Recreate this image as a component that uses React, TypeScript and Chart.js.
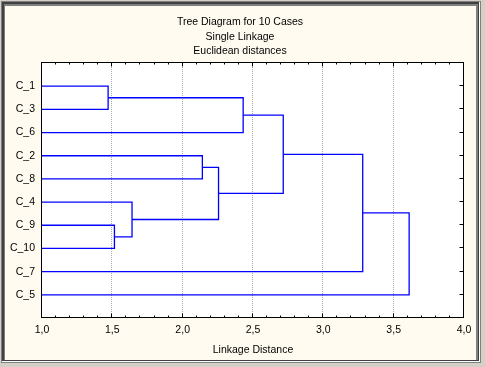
import React, { useEffect, useRef } from 'react';
import { Chart, registerables } from 'chart.js';

Chart.register(...registerables);

// ---- data ----
const titleLines = ['Tree Diagram for 10 Cases', 'Single Linkage', 'Euclidean distances'];
const xAxisTitle = 'Linkage Distance';
const leafLabels = ['C_1', 'C_3', 'C_6', 'C_2', 'C_8', 'C_4', 'C_9', 'C_10', 'C_7', 'C_5'];
// node ids: 0-9 leaves (display order), 10+ clusters in the order they are formed
const mergeLeft = [0, 6, 5, 3, 13, 10, 15, 16, 17];
const mergeRight = [1, 7, 11, 4, 12, 2, 14, 8, 9];
const mergeHeights = [1.47, 1.515, 1.64, 2.14, 2.255, 2.43, 2.715, 3.28, 3.61];
const xMin = 1.0;
const xMax = 4.0;
const xStep = 0.5;
const xMinorStep = 0.1;

const FONT = 'Liberation Sans, Arial, sans-serif';
const FONT_SIZE = 10.5;
const LINE_BLUE = '#0000ff';

function buildDatasets() {
  const nodeX: number[] = leafLabels.map(() => xMin);
  const nodeY: number[] = leafLabels.map((_, i) => i + 1);
  return mergeHeights.map((h, k) => {
    const a = mergeLeft[k];
    const b = mergeRight[k];
    const data = [
      { x: nodeX[a], y: nodeY[a] },
      { x: h, y: nodeY[a] },
      { x: h, y: nodeY[b] },
      { x: nodeX[b], y: nodeY[b] },
    ];
    nodeX.push(h);
    nodeY.push((nodeY[a] + nodeY[b]) / 2);
    return {
      label: 'link' + k,
      data,
      showLine: true,
      borderColor: LINE_BLUE,
      backgroundColor: LINE_BLUE,
      borderWidth: 1.3,
      pointRadius: 0,
      tension: 0,
    };
  });
}

const framePlugin = {
  id: 'framePlugin',
  beforeDraw(chart: any) {
    const { ctx, chartArea: a } = chart;
    ctx.save();
    ctx.fillStyle = '#ffffff';
    ctx.fillRect(a.left, a.top, a.right - a.left, a.bottom - a.top);
    ctx.restore();
  },
  beforeDatasetsDraw(chart: any) {
    const { ctx, chartArea: a } = chart;
    const xs = chart.scales.x;
    ctx.save();
    ctx.strokeStyle = '#a8a8a8';
    ctx.lineWidth = 1;
    ctx.setLineDash([1, 1]);
    for (let v = xMin + xStep; v < xMax - 1e-9; v += xStep) {
      const px = Math.round(xs.getPixelForValue(v)) - 0.5;
      ctx.beginPath();
      ctx.moveTo(px, a.top);
      ctx.lineTo(px, a.bottom);
      ctx.stroke();
    }
    ctx.restore();
  },
  afterDraw(chart: any) {
    const { ctx, chartArea: a } = chart;
    const xs = chart.scales.x;
    const ys = chart.scales.y;
    ctx.save();
    ctx.strokeStyle = '#000000';
    ctx.lineWidth = 1;
    const L = Math.round(a.left) - 0.5;
    const T = Math.round(a.top) - 0.5;
    const R = Math.round(a.right) - 0.5;
    const B = Math.round(a.bottom) - 0.5;
    ctx.strokeRect(L, T, R - L, B - T);
    ctx.beginPath();
    const n = Math.round((xMax - xMin) / xMinorStep);
    for (let i = 1; i < n; i++) {
      const v = xMin + i * xMinorStep;
      const major = i % Math.round(xStep / xMinorStep) === 0;
      const len = major ? 4 : 2;
      const px = Math.round(xs.getPixelForValue(v)) - 0.5;
      ctx.moveTo(px, T);
      ctx.lineTo(px, T + len);
      ctx.moveTo(px, B);
      ctx.lineTo(px, B - len);
    }
    leafLabels.forEach((_, i) => {
      const py = Math.round(ys.getPixelForValue(i + 1)) - 0.5;
      ctx.moveTo(R, py);
      ctx.lineTo(R - 4, py);
    });
    ctx.stroke();
    ctx.restore();
  },
};

export default function App() {
  const ref = useRef<HTMLCanvasElement | null>(null);
  useEffect(() => {
    if (!ref.current) return;
    const chart = new Chart(ref.current, {
      type: 'scatter',
      data: { datasets: buildDatasets() as any },
      plugins: [framePlugin],
      options: {
        animation: false,
        responsive: false,
        maintainAspectRatio: false,
        layout: { padding: 0 },
        plugins: {
          legend: { display: false },
          tooltip: { enabled: false },
          title: {
            display: true,
            text: titleLines,
            color: '#000000',
            font: { family: FONT, size: FONT_SIZE, weight: 'normal', lineHeight: 1.4 },
            padding: { top: 8.7, bottom: 4.2 },
          },
        },
        scales: {
          x: {
            type: 'linear',
            min: xMin,
            max: xMax,
            grid: { display: false, drawTicks: false },
            border: { display: false },
            ticks: {
              stepSize: xStep,
              autoSkip: false,
              maxRotation: 0,
              padding: 6,
              color: '#000000',
              font: { family: FONT, size: FONT_SIZE },
              callback: (v: any) => Number(v).toFixed(1).replace('.', ','),
            },
            title: {
              display: true,
              text: xAxisTitle,
              color: '#000000',
              font: { family: FONT, size: FONT_SIZE, lineHeight: 1.2 },
              padding: { top: 4, bottom: 4 },
            },
            afterFit: (s: any) => {
              s.height = 42;
              s.paddingLeft = 0;
              s.paddingRight = 0;
            },
          },
          y: {
            type: 'linear',
            min: 0,
            max: 11,
            reverse: true,
            grid: { display: false, drawTicks: false },
            border: { display: false },
            ticks: {
              stepSize: 1,
              autoSkip: false,
              padding: 7,
              color: '#000000',
              font: { family: FONT, size: FONT_SIZE },
              callback: (v: any) => leafLabels[Number(v) - 1] ?? '',
            },
            afterFit: (s: any) => {
              s.width = 37;
              s.paddingTop = 0;
              s.paddingBottom = 0;
            },
          },
          y2: {
            type: 'linear',
            position: 'right',
            display: true,
            grid: { display: false, drawTicks: false },
            border: { display: false },
            ticks: { display: false },
            afterFit: (s: any) => {
              s.width = 11;
              s.paddingTop = 0;
              s.paddingBottom = 0;
            },
          },
        },
      } as any,
    });
    return () => chart.destroy();
  }, []);

  const abs = (l: number, t: number, w: number, h: number, bg: string): React.CSSProperties => ({
    position: 'absolute',
    left: l,
    top: t,
    width: w,
    height: h,
    background: bg,
  });

  return (
    <div style={{ position: 'fixed', left: 0, top: 0, width: 485, height: 367, background: '#d4d0c8', overflow: 'hidden' }}>
      <div style={abs(1, 1, 480, 362, '#808080')} />
      <div style={abs(2, 2, 478, 360, '#ffffff')} />
      <div style={abs(2, 2, 477, 359, '#404040')} />
      <div style={abs(4, 4, 474, 356, '#808080')} />
      <div style={abs(5, 6, 471, 354, '#fffbf0')} />
      <div style={{ position: 'absolute', left: 5, top: 6, width: 470, height: 354 }}>
        <canvas ref={ref} width={470} height={354} style={{ width: 470, height: 354, display: 'block' }} />
      </div>
    </div>
  );
}
